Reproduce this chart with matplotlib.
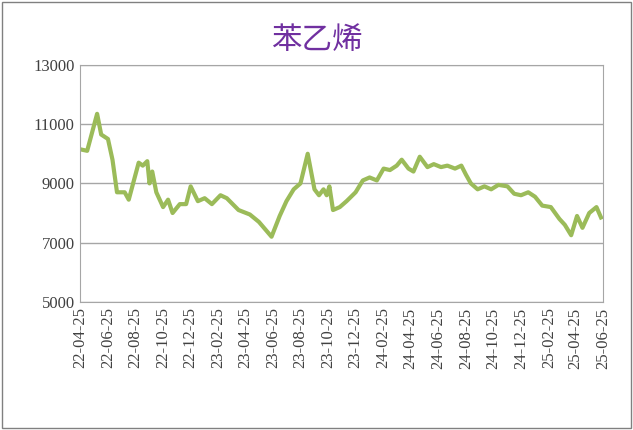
import matplotlib
matplotlib.use("Agg")
import matplotlib.pyplot as plt
import matplotlib.dates as mdates
import pandas as pd

# 苯乙烯 价格
dates = ["2022-04-25", "2022-05-10", "2022-06-01", "2022-06-10", "2022-06-25", "2022-07-05",
         "2022-07-15", "2022-08-01", "2022-08-10", "2022-09-01", "2022-09-10", "2022-09-20",
         "2022-09-25", "2022-10-01", "2022-10-10", "2022-10-25", "2022-11-05", "2022-11-15",
         "2022-12-01", "2022-12-15", "2022-12-25", "2023-01-10", "2023-01-25", "2023-02-10",
         "2023-03-01", "2023-03-15", "2023-04-10", "2023-05-05", "2023-05-25", "2023-06-22",
         "2023-07-10", "2023-07-25", "2023-08-10", "2023-08-25", "2023-09-10", "2023-09-25",
         "2023-10-05", "2023-10-15", "2023-10-22", "2023-10-28", "2023-11-05", "2023-11-20",
         "2023-12-05", "2023-12-25", "2024-01-10", "2024-01-25", "2024-02-10", "2024-02-25",
         "2024-03-10", "2024-03-25", "2024-04-05", "2024-04-20", "2024-05-01", "2024-05-15",
         "2024-06-01", "2024-06-15", "2024-07-01", "2024-07-15", "2024-08-01", "2024-08-15",
         "2024-08-25", "2024-09-05", "2024-09-20", "2024-10-05", "2024-10-20", "2024-11-05",
         "2024-11-25", "2024-12-10", "2024-12-25", "2025-01-10", "2025-01-25", "2025-02-10",
         "2025-03-01", "2025-03-20", "2025-04-01", "2025-04-15", "2025-04-28", "2025-05-10",
         "2025-05-25", "2025-06-10", "2025-06-20"]
prices = [10150, 10100, 11350, 10650, 10500, 9800,
          8700, 8700, 8450, 9700, 9600, 9750,
          9000, 9400, 8700, 8200, 8450, 8000,
          8300, 8300, 8900, 8400, 8500, 8300,
          8600, 8500, 8100, 7950, 7700, 7200,
          7900, 8400, 8800, 9000, 10000, 8800,
          8600, 8800, 8600, 8900, 8100, 8200,
          8400, 8700, 9100, 9200, 9100, 9500,
          9450, 9600, 9800, 9500, 9400, 9900,
          9550, 9650, 9550, 9600, 9500, 9600,
          9300, 9000, 8800, 8900, 8800, 8950,
          8900, 8650, 8600, 8700, 8550, 8250,
          8200, 7800, 7600, 7250, 7900, 7500,
          8000, 8200, 7850]
tick_labels = ["2022-04-25", "2022-06-25", "2022-08-25", "2022-10-25", "2022-12-25",
               "2023-02-25", "2023-04-25", "2023-06-25", "2023-08-25", "2023-10-25",
               "2023-12-25", "2024-02-25", "2024-04-25", "2024-06-25", "2024-08-25",
               "2024-10-25", "2024-12-25", "2025-02-25", "2025-04-25", "2025-06-25"]

x = pd.to_datetime(dates)

fig = plt.figure(figsize=(6.33, 4.3), dpi=100)
ax = fig.add_axes([0.127, 0.298, 0.826, 0.551])

ax.plot(x, prices, color="#9bbb59", linewidth=3)

ax.set_ylim(5000, 13000)
ax.set_yticks(range(5000, 13001, 2000))
ax.set_xlim(pd.Timestamp("2022-04-25"), pd.Timestamp("2025-06-25"))
ax.set_xticks(pd.to_datetime(tick_labels))
ax.xaxis.set_major_formatter(mdates.DateFormatter("%y-%m-%d"))
for lbl in ax.get_xticklabels():
    lbl.set_rotation(90)
for lbl in ax.get_xticklabels() + ax.get_yticklabels():
    lbl.set_fontfamily("Liberation Serif")
    lbl.set_fontsize(12)
    lbl.set_color("#404040")

ax.grid(axis="y", color="#a6a6a6", linewidth=1)
ax.tick_params(length=0, pad=4)
for s in ax.spines.values():
    s.set_color("#a6a6a6")

fig.text(0.5, 0.905, "苯乙烯", ha="center", va="center", fontsize=22,
         color="#7030a0", fontfamily="Noto Sans CJK SC")

fig.patches.append(plt.Rectangle((0.003, 0.005), 0.994, 0.99, transform=fig.transFigure,
                                 fill=False, edgecolor="#808080", linewidth=1))

fig.savefig("out.png", dpi=100)
